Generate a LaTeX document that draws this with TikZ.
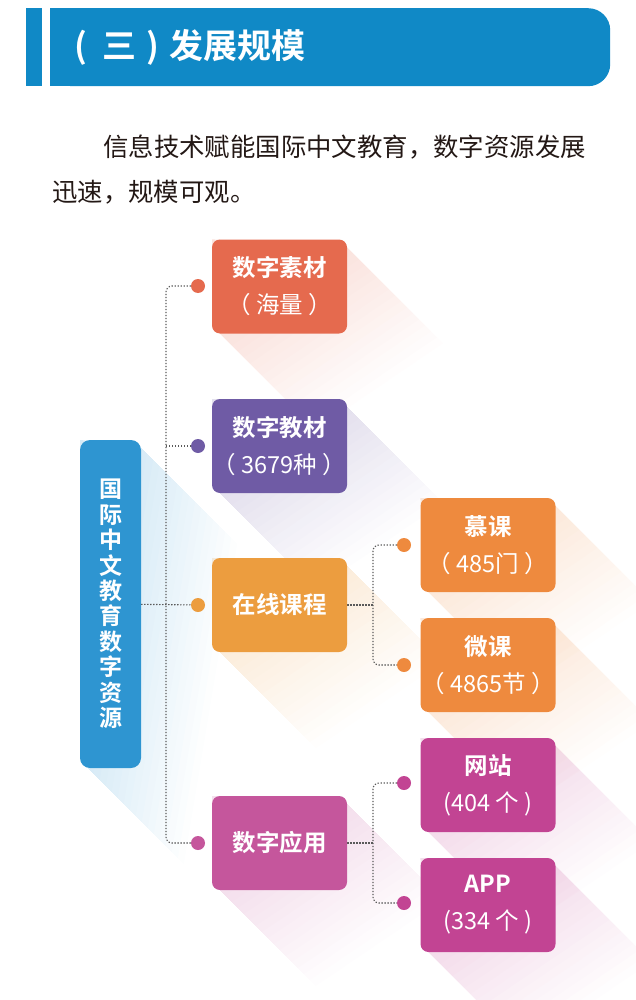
\documentclass[tikz,border=0pt]{standalone}
\usepackage{fontspec}
\setmainfont{Noto Sans CJK SC}[BoldFont={* Bold}]
\usetikzlibrary{positioning,calc}
\definecolor{headblue}   {HTML}{1089C6}
\definecolor{rootblue}   {HTML}{2E95D1}
\definecolor{sucaired}   {HTML}{E56A4E}
\definecolor{jiaocaipur} {HTML}{6F5BA5}
\definecolor{kechengorg} {HTML}{EC9D3F}
\definecolor{kechorange} {HTML}{EE8A3E}
\definecolor{yingyongmag}{HTML}{C5569C}
\definecolor{appmag}     {HTML}{C24493}
\definecolor{linegray}   {HTML}{5A5A5A}
\definecolor{bodytext}   {HTML}{231815}
\pgfdeclarelayer{shadelayer}
\pgfdeclarelayer{linelayer}
\pgfsetlayers{shadelayer,linelayer,main}

\begin{document}
\begin{tikzpicture}[
  x=1pt, y=-1pt,
  box/.style={rounded corners=8pt,minimum width=135pt,minimum height=94pt,
              align=center,text=white,inner sep=0pt,
              font=\fontsize{23.5}{37}\selectfont},
  bullet/.style={circle,inner sep=0pt,minimum size=14pt},
  link/.style={draw=linegray,line width=1.1pt,dash pattern=on 1.3pt off 1.7pt},
  boxshadow/.style={fill opacity=0.013}
]
\useasboundingbox (0,0) rectangle (636,1000);

% --- header ---
\fill[headblue] (26,8) rectangle (42,86);
\node[fill=headblue,rounded corners=22pt,minimum width=560pt,minimum height=78pt,
      inner sep=0pt,anchor=north west] (banner) at (50,8) {};
\fill[headblue] (banner.north west) rectangle ($(banner.south west)+(40,0)$);
\node[anchor=west,text=white,font=\fontsize{34}{34}\selectfont\bfseries,inner sep=0pt]
  (title) at (74,47) {(\hspace{.45em}三\hspace{.3em})\hspace{.3em}发展规模};

% --- intro text ---
\node[anchor=west,text=bodytext,font=\fontsize{25.4}{25.4}\selectfont,inner sep=0pt]
  (intro1) at (103,147) {信息技术赋能国际中文教育，数字资源发展};
\node[anchor=west,text=bodytext,font=\fontsize{25.4}{25.4}\selectfont,inner sep=0pt]
  (intro2) at (52,192) {迅速，规模可观。};

% --- boxes ---
\node[box,fill=rootblue,rounded corners=10pt,minimum width=61pt,minimum height=328pt,
      font=\fontsize{23}{25.4}\selectfont\bfseries] (root) at (110.5,604)
  {国\\际\\中\\文\\教\\育\\数\\字\\资\\源};
\node[box,fill=sucaired]    (sucai)    at (279.5,286.5) {\textbf{数字素材}\\（ 海量 ）};
\node[box,fill=jiaocaipur]  (jiaocai)  at (279.5,446)   {\textbf{数字教材}\\（ 3679种 ）};
\node[box,fill=kechengorg]  (kecheng)  at (279.5,605)   {\textbf{在线课程}};
\node[box,fill=yingyongmag] (yingyong) at (279.5,843)   {\textbf{数字应用}};
\node[box,fill=kechorange]  (muke)     at (488,545)     {\textbf{慕课}\\（ 485门 ）};
\node[box,fill=kechorange]  (weike)    at (488,665)     {\textbf{微课}\\（ 4865节 ）};
\node[box,fill=appmag]      (wangzhan) at (488,785)     {\textbf{网站}\\(404 个 )};
\node[box,fill=appmag]      (app)      at (488,905)     {\textbf{APP}\\(334 个 )};

% --- bullets ---
\node[bullet,fill=sucaired]    (dsucai)    at (198,286) {};
\node[bullet,fill=jiaocaipur]  (djiaocai)  at (198,446) {};
\node[bullet,fill=kechengorg]  (dkecheng)  at (198,605) {};
\node[bullet,fill=yingyongmag] (dyingyong) at (198,843) {};
\node[bullet,fill=kechorange]  (dmuke)     at (404,545) {};
\node[bullet,fill=kechorange]  (dweike)    at (404,665) {};
\node[bullet,fill=appmag]      (dwangzhan) at (404,783) {};
\node[bullet,fill=appmag]      (dapp)      at (404,903) {};

\coordinate (trunk) at (166,605);
\coordinate (branchA) at (373,605);
\coordinate (branchB) at (373,843);

% --- dotted links ---
\begin{pgfonlayer}{linelayer}
\draw[link] (root) -- (dkecheng);
\draw[link,rounded corners=6pt] (dsucai) -| (trunk |- dyingyong) -- (dyingyong);
\draw[link] (trunk |- djiaocai) -- (djiaocai);
\draw[link] (kecheng) -- (branchA);
\draw[link,rounded corners=6pt] (dmuke) -| (branchA |- dweike) -- (dweike);
\draw[link] (yingyong) -- (branchB);
\draw[link,rounded corners=6pt] (dwangzhan) -| (branchB |- dapp) -- (dapp);
\end{pgfonlayer}

% --- long shadows, stacked thin layers ---
\begin{pgfonlayer}{shadelayer}
\foreach \n/\c in {root/rootblue,sucai/sucaired,jiaocai/jiaocaipur,
                   kecheng/kechengorg,yingyong/yingyongmag,muke/kechorange,
                   weike/kechorange,wangzhan/appmag,app/appmag}{
  \foreach \d in {6,12,...,96}{
    \fill[\c,boxshadow]
      ($(\n.north east)+(0,8)$) -- ++(\d,\d) -- ($(\n.south west)+(8+\d,\d)$)
      -- ($(\n.south west)+(8,0)$) -- (\n.north west) -- cycle;
  }
}
\end{pgfonlayer}
\end{tikzpicture}
\end{document}
